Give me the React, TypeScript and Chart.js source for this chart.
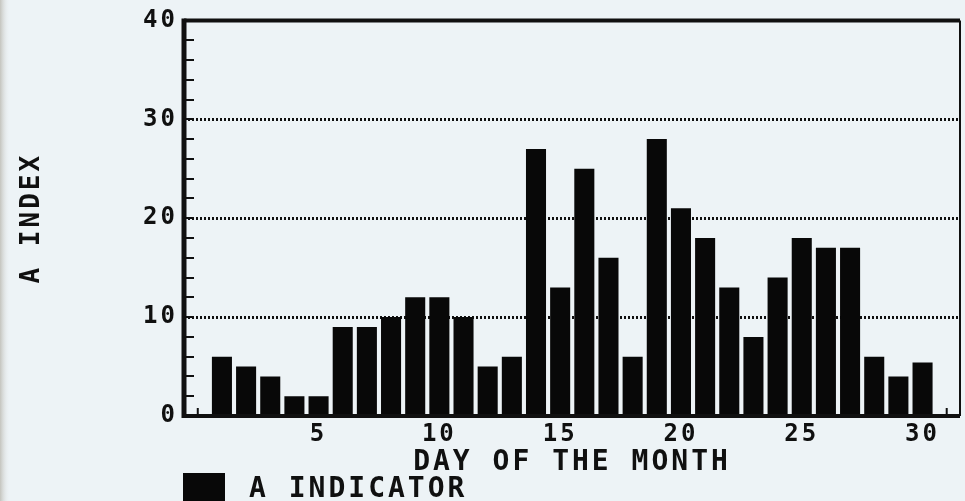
import React, { useEffect, useRef } from 'react';
import { Chart, registerables } from 'chart.js';

Chart.register(...registerables);

// ---- data ----
const days = [1, 2, 3, 4, 5, 6, 7, 8, 9, 10, 11, 12, 13, 14, 15, 16, 17, 18, 19, 20, 21, 22, 23, 24, 25, 26, 27, 28, 29, 30];
const aIndex = [6, 5, 4, 2, 2, 9, 9, 10, 12, 12, 10, 5, 6, 27, 13, 25, 16, 6, 28, 21, 18, 13, 8, 14, 18, 17, 17, 6, 4, 5.4];
const xTickValues = [5, 10, 15, 20, 25, 30];
const yTickValues = [0, 10, 20, 30, 40];
const yGridValues = [10, 20, 30];
const seriesLabel = 'A INDICATOR';
const xTitle = 'DAY OF THE MONTH';
const yTitle = 'A INDEX';

const FONT = '"DejaVu Sans Mono", "Liberation Mono", monospace';
const INK = '#101010';
const PAPER = 'rgb(237,243,246)';

const paperPlugin = {
  id: 'paper',
  beforeDraw(chart: any) {
    const { ctx, width, height } = chart;
    ctx.save();
    ctx.fillStyle = PAPER;
    ctx.fillRect(0, 0, width, height);
    const g = ctx.createLinearGradient(0, 0, 10, 0);
    g.addColorStop(0, 'rgb(196,196,190)');
    g.addColorStop(1, 'rgba(237,243,246,0)');
    ctx.fillStyle = g;
    ctx.fillRect(0, 0, 10, height);
    ctx.restore();
    try { ctx.letterSpacing = '3px'; } catch (e) { /* ignore */ }
  },
  beforeDatasetsDraw(chart: any) {
    const { ctx, chartArea } = chart;
    const x = chart.scales.x;
    ctx.save();
    ctx.strokeStyle = INK;
    ctx.lineWidth = 2;
    for (let d = Math.ceil(x.min); d <= Math.floor(x.max); d++) {
      const px = x.getPixelForValue(d);
      ctx.beginPath();
      ctx.moveTo(px, chartArea.bottom);
      ctx.lineTo(px, chartArea.bottom - 8);
      ctx.stroke();
    }
    ctx.restore();
  },
  afterDatasetsDraw(chart: any) {
    const { ctx, chartArea } = chart;
    const { left, right, top, bottom } = chartArea;
    const y = chart.scales.y;
    ctx.save();
    ctx.strokeStyle = INK;
    // inward minor ticks on y axis
    ctx.lineWidth = 2;
    y.ticks.forEach((t: any) => {
      const py = Math.round(y.getPixelForValue(t.value));
      ctx.beginPath();
      ctx.moveTo(left, py);
      ctx.lineTo(left + 10, py);
      ctx.stroke();
    });
    // frame
    ctx.lineWidth = 4;
    ctx.beginPath();
    ctx.moveTo(left, top);
    ctx.lineTo(right, top);
    ctx.stroke();
    ctx.lineWidth = 2;
    ctx.beginPath();
    ctx.moveTo(right, top);
    ctx.lineTo(right, bottom);
    ctx.stroke();
    ctx.lineWidth = 4;
    ctx.beginPath();
    ctx.moveTo(left, bottom);
    ctx.lineTo(right, bottom);
    ctx.stroke();
    ctx.lineWidth = 5;
    ctx.beginPath();
    ctx.moveTo(left, top - 2);
    ctx.lineTo(left, bottom + 2);
    ctx.stroke();
    ctx.restore();
  },
  afterDraw(chart: any) {
    const { ctx, chartArea } = chart;
    const ds = chart.data.datasets[0];
    ctx.save();
    ctx.fillStyle = ds.backgroundColor;
    ctx.fillRect(chartArea.left - 1, 473, 42, 30);
    ctx.fillStyle = INK;
    ctx.font = `bold 28px ${FONT}`;
    ctx.textBaseline = 'middle';
    ctx.textAlign = 'left';
    ctx.fillText(ds.label, 249, 490);
    ctx.restore();
  },
};

export default function App() {
  const ref = useRef<HTMLCanvasElement | null>(null);

  useEffect(() => {
    if (!ref.current) return;
    const chart = new Chart(ref.current, {
      type: 'bar',
      data: {
        datasets: [
          {
            label: seriesLabel,
            data: days.map((d, i) => ({ x: d, y: aIndex[i] })),
            backgroundColor: '#080808',
            borderWidth: 0,
            categoryPercentage: 1,
            barPercentage: 0.83,
          },
        ],
      },
      options: {
        animation: false,
        responsive: false,
        devicePixelRatio: 1,
        layout: { padding: { left: 0, right: 5, top: 20, bottom: 0 } },
        plugins: {
          legend: { display: false },
          tooltip: { enabled: false },
        },
        scales: {
          x: {
            type: 'linear',
            min: -0.57,
            max: 31.55,
            offset: false,
            grid: { display: false, drawTicks: false },
            border: { display: false },
            afterBuildTicks: (axis: any) => {
              axis.ticks = xTickValues.map((v) => ({ value: v }));
            },
            afterFit: (axis: any) => {
              axis.height = 85;
            },
            ticks: {
              autoSkip: false,
              maxRotation: 0,
              color: INK,
              padding: 4,
              font: { family: FONT, size: 24, weight: 'bold' },
              callback: (v: any) => String(v),
            },
            title: {
              display: true,
              text: xTitle,
              color: INK,
              font: { family: FONT, size: 28, weight: 'bold' },
              padding: { top: 0, bottom: 21 },
            },
          },
          y: {
            min: 0,
            max: 40,
            grid: {
              drawTicks: false,
              lineWidth: 3,
              color: (c: any) => (c.tick && yGridValues.includes(c.tick.value) ? INK : 'rgba(0,0,0,0)'),
            },
            border: { display: false, dash: [2, 2] },
            afterFit: (axis: any) => {
              axis.width = 184;
            },
            ticks: {
              stepSize: 2,
              autoSkip: false,
              color: INK,
              padding: 6,
              font: { family: FONT, size: 24, weight: 'bold' },
              callback: (v: any) => (yTickValues.includes(Number(v)) ? String(v) : ''),
            },
            title: {
              display: true,
              text: yTitle,
              color: INK,
              font: { family: FONT, size: 26, weight: 'bold' },
              padding: { top: 17, bottom: 0 },
            },
          },
        },
      },
      plugins: [paperPlugin],
    } as any);
    return () => chart.destroy();
  }, []);

  return (
    <div style={{ position: 'fixed', left: 0, top: 0, width: 965, height: 501, background: PAPER }}>
      <canvas ref={ref} width={965} height={501} style={{ display: 'block', width: 965, height: 501 }} />
    </div>
  );
}
